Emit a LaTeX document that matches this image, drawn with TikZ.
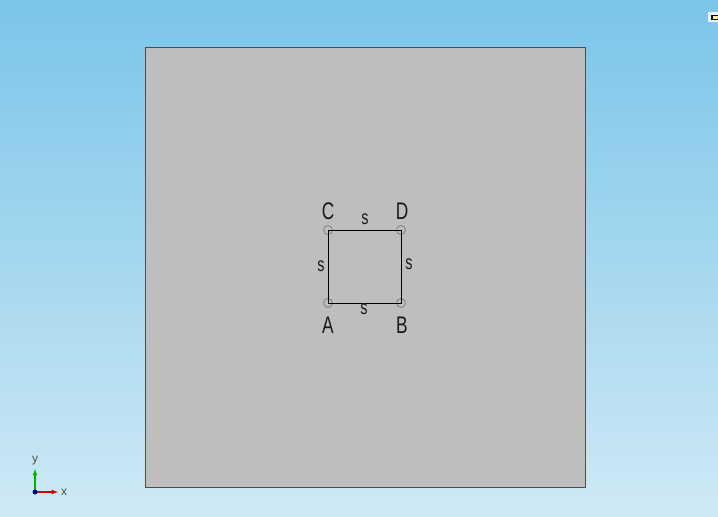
\documentclass[tikz,border=0pt]{standalone}
\usepackage{fontspec}
\setmainfont{Liberation Sans}
\usetikzlibrary{positioning}
\definecolor{skytop}{RGB}{122,197,233}
\definecolor{skybot}{RGB}{207,233,245}
\definecolor{plate}{RGB}{190,190,190}
\newcommand\narrow[1]{\scalebox{0.72}[1]{#1}}

\begin{document}
\begin{tikzpicture}[x=1pt, y=-1pt,
	pt/.style = {draw=black!50, circle, inner sep=0pt, minimum size=9pt, line width=0.8pt},
	lab/.style = {font=\fontsize{24}{24}\selectfont, text=black!90},
	side/.style = {font=\fontsize{20}{20}\selectfont, text=black!90}]
	\shade[top color=skytop, bottom color=skybot] (0,0) rectangle (718,517);
	\useasboundingbox (0,0) rectangle (718,517);
	\draw[fill=plate, draw=black!70, line width=0.7pt] (145,47) rectangle (585,487);
	% corners of the square
	\node[pt] (A) at (328,303) {};
	\node[pt] (B) at (401,303) {};
	\node[pt] (C) at (328,230) {};
	\node[pt] (D) at (401,230) {};
	\draw[line width=0.9pt] (A.center) -- (B.center) -- (D.center) -- (C.center) -- cycle;
	\node[lab] (la) at (328,325) {\narrow{A}};
	\node[lab] (lb) at (402,325) {\narrow{B}};
	\node[lab] (lc) at (328,211) {\narrow{C}};
	\node[lab] (ld) at (402,211) {\narrow{D}};
	\node[side] (s1) at (365,219) {\narrow{s}};
	\node[side] (s2) at (364,309) {\narrow{s}};
	\node[side] (s3) at (321,266) {\narrow{s}};
	\node[side] (s4) at (409,264) {\narrow{s}};
	% axes
	\coordinate (o) at (35,492);
	\coordinate (ox) at (58,492);
	\coordinate (oy) at (35,469);
	\draw[red!80!black, line width=1.2pt, -latex] (o) -- (ox);
	\draw[green!70!black, line width=1.2pt, -latex] (o) -- (oy);
	\fill[blue!60!black] (o) circle (2.5pt);
	\node[font=\fontsize{12}{12}\selectfont, text=black!70] (ax) at (64,492) {x};
	\node[font=\fontsize{12}{12}\selectfont, text=black!70] (ay) at (35,461) {y};
	% icon
	\fill[white!85!skytop] (708,12) rectangle (718,22);
	\fill[blue!40!black] (711,15) rectangle (718,20);
	\fill[yellow!60!white] (713,16) rectangle (718,19);
\end{tikzpicture}
\end{document}
